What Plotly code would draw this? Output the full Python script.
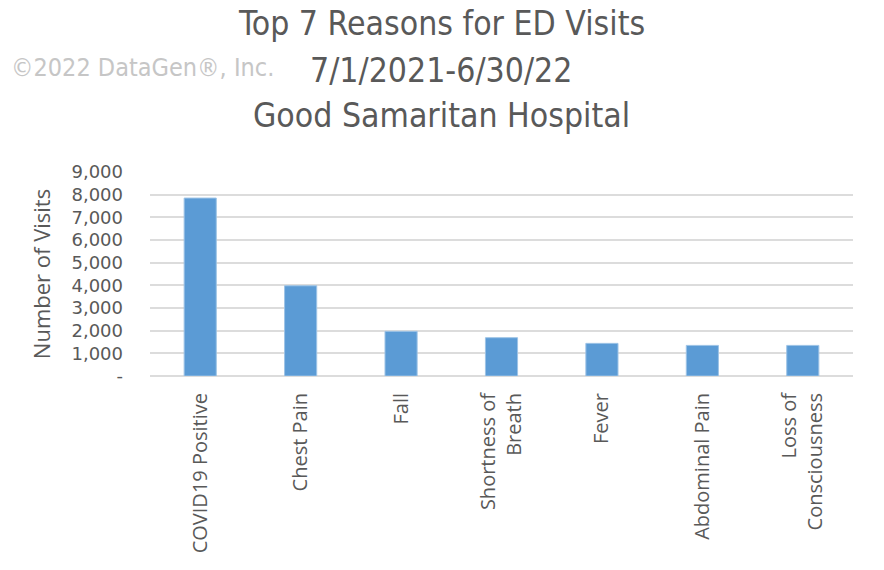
import plotly.graph_objects as go

categories = ["COVID19 Positive", "Chest Pain", "Fall", "Shortness of<br>Breath",
              "Fever", "Abdominal Pain", "Loss of<br>Consciousness"]
visits = [7850, 3980, 1970, 1690, 1440, 1350, 1350]
tick_vals = [0, 1000, 2000, 3000, 4000, 5000, 6000, 7000, 8000, 9000]
tick_text = ["-", "1,000", "2,000", "3,000", "4,000", "5,000", "6,000", "7,000", "8,000", "9,000"]
title_lines = ["Top 7 Reasons for ED Visits", "7/1/2021-6/30/22", "Good Samaritan Hospital"]

FONT = "DejaVu Sans Condensed, Open Sans, sans-serif"

fig = go.Figure(go.Bar(
    x=categories, y=visits,
    marker=dict(color="#5B9BD5", line=dict(color="#9DC3E6", width=1)),
    width=0.32,
))

fig.update_layout(
    width=884, height=570,
    margin=dict(l=150, r=31, t=172, b=194),
    paper_bgcolor="white", plot_bgcolor="white",
    font=dict(family="Open Sans, sans-serif", color="#595959"),
    showlegend=False,
)
fig.update_yaxes(
    range=[0, 9000], tickvals=tick_vals, ticktext=tick_text,
    showgrid=True, gridcolor="#dcdcdc", gridwidth=1.5,
    zeroline=True, zerolinecolor="#dcdcdc", zerolinewidth=1.5,
    tickfont=dict(size=18, color="#595959", family="DejaVu Sans, sans-serif"),
    ticks="", ticklen=0, ticklabelstandoff=26,
    title=dict(text="Number of Visits", font=dict(size=22, color="#595959"), standoff=14),
    showline=False,
)
fig.update_xaxes(
    tickangle=-90, tickfont=dict(size=20, color="#595959"),
    showline=False, ticks="", ticklabelstandoff=12,
)

for line, y in zip(title_lines, [24, 70, 115]):
    fig.add_annotation(text=line, xref="paper", yref="paper",
                       x=(441 - 150) / (884 - 150 - 31),
                       y=1 + (172 - y) / (570 - 172 - 194),
                       showarrow=False, xanchor="center", yanchor="middle",
                       font=dict(size=33.5, color="#595959", family=FONT))

fig.add_annotation(text="©2022 DataGen®, Inc.", xref="paper", yref="paper",
                   x=(9 - 150) / 703, y=1 + (172 - 67) / 204, xanchor="left", yanchor="middle",
                   showarrow=False, font=dict(size=25, color="#c6c6c6", family=FONT))

fig.write_html("out.html")
